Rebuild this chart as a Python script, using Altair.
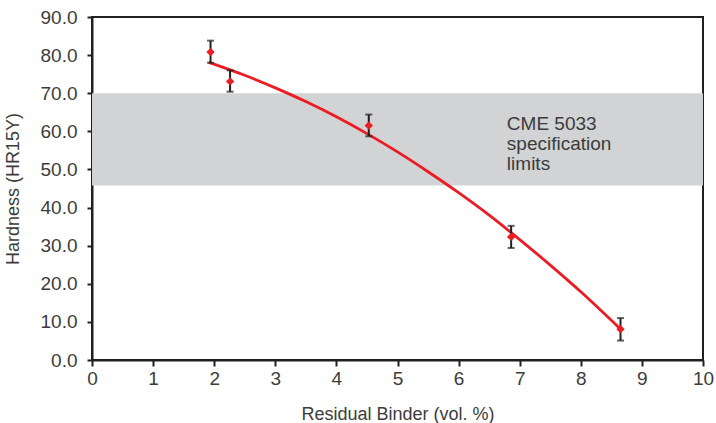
import altair as alt
import pandas as pd

# measured points (Residual binder vol.%, hardness HR15Y) with error bar limits
binder = [1.94, 2.26, 4.53, 6.86, 8.65]
hardness = [80.8, 73.1, 61.5, 32.3, 8.1]
err_low = [78.0, 70.4, 58.7, 29.4, 5.1]
err_high = [83.8, 76.0, 64.4, 35.2, 11.0]

# fitted trend curve
curve_x = [1.91, 2.5, 3.0, 3.5, 4.0, 4.5, 5.0, 5.5, 6.0, 6.5, 7.0, 7.5, 8.0, 8.65]
curve_y = [78.1, 74.7, 71.4, 67.8, 63.8, 59.4, 54.6, 49.4, 43.9, 38.0, 31.6, 24.9, 17.9, 8.1]

# specification band
band_low = [45.8]
band_high = [70.0]
band_x0 = [0]
band_x1 = [10]
band_label = [["CME 5033", "specification", "limits"]]
label_x = [6.79]
label_y = [60.4]

x_ticks = [0, 1, 2, 3, 4, 5, 6, 7, 8, 9, 10]
y_ticks = [0, 10, 20, 30, 40, 50, 60, 70, 80, 90]

RED = "#ec1c24"
DARK = "#231f20"
GREY = "#d1d3d4"
FONT = "Liberation Sans"
TXT = "#3c3c3c"

pts = pd.DataFrame({"x": binder, "y": hardness, "lo": err_low, "hi": err_high})
curve = pd.DataFrame({"x": curve_x, "y": curve_y})
band = pd.DataFrame({"x0": band_x0, "x1": band_x1, "lo": band_low, "hi": band_high})
lab = pd.DataFrame({"x": label_x, "y": label_y, "t": band_label})

xscale = alt.Scale(domain=[0, 10], nice=False, zero=False, padding=0)
yscale = alt.Scale(domain=[0, 90], nice=False, zero=False, padding=0)

xaxis = alt.Axis(values=x_ticks, format="d", title="Residual Binder (vol. %)",
                 titlePadding=17, labelPadding=3, tickSize=6, labelOverlap=False,
                 labelFlush=False, tickCount=11)
yaxis = alt.Axis(values=y_ticks, format=".1f", title="Hardness (HR15Y)",
                 titlePadding=18, labelPadding=10, tickSize=5, labelOverlap=False,
                 labelFlush=False, tickCount=10)


def X(f):
    return alt.X(f, type="quantitative", scale=xscale, axis=xaxis)


def Y(f):
    return alt.Y(f, type="quantitative", scale=yscale, axis=yaxis)


band_layer = alt.Chart(band).mark_rect(color=GREY).encode(
    x=X("x0"), x2="x1", y=Y("lo"), y2="hi"
)

text_layer = alt.Chart(lab).mark_text(
    align="left", baseline="alphabetic", fontSize=19, lineHeight=20,
    font=FONT, color=TXT
).encode(x=X("x"), y=Y("y"), text="t")

line_layer = alt.Chart(curve).mark_line(
    color=RED, strokeWidth=2.8, interpolate="monotone"
).encode(x=X("x"), y=Y("y"))

rule_layer = alt.Chart(pts).mark_rule(color=DARK, strokeWidth=2).encode(
    x=X("x"), y=Y("lo"), y2="hi"
)
cap_lo = alt.Chart(pts).mark_tick(color=DARK, orient="horizontal", size=7, thickness=2).encode(
    x=X("x"), y=Y("lo")
)
cap_hi = alt.Chart(pts).mark_tick(color=DARK, orient="horizontal", size=7, thickness=2).encode(
    x=X("x"), y=Y("hi")
)
point_layer = alt.Chart(pts).mark_point(
    shape="diamond", filled=True, color=RED, size=70, opacity=1
).encode(x=X("x"), y=Y("y"))

chart = alt.layer(
    band_layer, text_layer, line_layer, rule_layer, cap_lo, cap_hi, point_layer
).properties(
    width=611, height=343,
    autosize=alt.AutoSizeParams(type="none"),
    padding={"left": 92, "top": 17, "right": 13, "bottom": 63},
    background="white",
).configure_view(
    stroke=DARK, strokeWidth=2
).configure_scale(
    continuousPadding=0
).configure_axis(
    grid=False,
    domainColor=DARK, domainWidth=2,
    tickColor=DARK, tickWidth=2,
    labelFont=FONT, labelFontSize=19, labelColor=TXT,
    titleFont=FONT, titleFontSize=18, titleColor=TXT, titleFontWeight="normal",
)

chart.save("out.html", embed_options={"renderer": "svg", "actions": False})
